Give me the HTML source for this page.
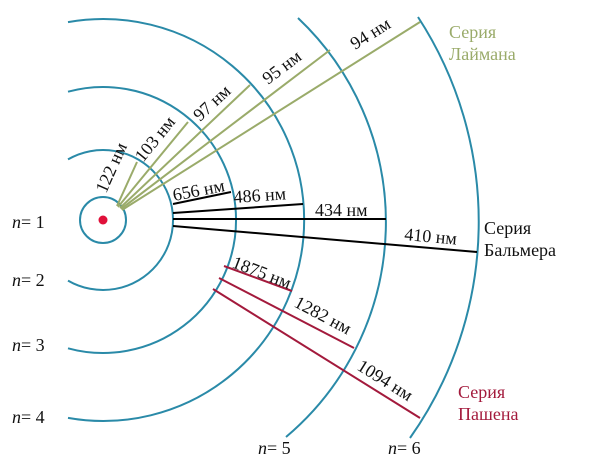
<!DOCTYPE html>
<html><head><meta charset="utf-8"><style>
html,body{margin:0;padding:0;background:#fff;}
svg{display:block;}
text{font-family:"Liberation Serif",serif;font-size:18px;fill:#111;}
</style></head><body>
<svg width="600" height="475" viewBox="0 0 600 475" xmlns="http://www.w3.org/2000/svg">
<g fill="none" stroke="#2a8aa8" stroke-width="2">
<circle cx="103" cy="220" r="23"/>
<path d="M68,159.4 A70,70 0 1 1 68,280.6"/>
<path d="M68,91.7 A133,133 0 1 1 68,348.3"/>
<path d="M68,22.1 A201,201 0 1 1 68,417.9"/>
<path d="M298,18 A281,281 0 0 1 286,437"/>
<path d="M418,17 A375,375 0 0 1 410,438"/>
</g>
<circle cx="103" cy="220" r="4.5" fill="#e0103a"/>
<g stroke="#9aab6a" stroke-width="2">
<line x1="117" y1="206" x2="137" y2="162"/>
<line x1="118" y1="207" x2="188" y2="122"/>
<line x1="120" y1="208" x2="250" y2="85"/>
<line x1="121" y1="209" x2="330" y2="50"/>
<line x1="122" y1="210" x2="420" y2="22"/>
</g>
<g stroke="#000" stroke-width="2">
<line x1="173" y1="204" x2="231" y2="192"/>
<line x1="173" y1="213" x2="303" y2="204"/>
<line x1="173" y1="219" x2="386" y2="219"/>
<line x1="173" y1="226" x2="477" y2="252"/>
</g>
<g stroke="#a31a3c" stroke-width="2">
<line x1="224" y1="266" x2="292" y2="291"/>
<line x1="219" y1="278" x2="354" y2="348"/>
<line x1="213" y1="289" x2="420" y2="418"/>
</g>
<text transform="translate(106,194) rotate(-66)">122 нм</text>
<text transform="translate(143,163) rotate(-51)">103 нм</text>
<text transform="translate(200,122) rotate(-43)">97 нм</text>
<text transform="translate(268,85) rotate(-37)">95 нм</text>
<text transform="translate(355,50) rotate(-32)">94 нм</text>
<text transform="translate(174,201) rotate(-11)">656 нм</text>
<text transform="translate(234,203) rotate(-4)">486 нм</text>
<text x="315" y="216">434 нм</text>
<text transform="translate(404,240) rotate(5)">410 нм</text>
<text transform="translate(231,267) rotate(21)">1875 нм</text>
<text transform="translate(293,306) rotate(28)">1282 нм</text>
<text transform="translate(356,369) rotate(32)">1094 нм</text>
<text x="449" y="38" style="fill:#9aab6a">Серия</text>
<text x="449" y="60" style="fill:#9aab6a">Лаймана</text>
<text x="484" y="234">Серия</text>
<text x="484" y="256">Бальмера</text>
<text x="458" y="398" style="fill:#a31a3c">Серия</text>
<text x="458" y="420" style="fill:#a31a3c">Пашена</text>
<text x="12" y="228"><tspan font-style="italic">n</tspan>= 1</text>
<text x="12" y="286"><tspan font-style="italic">n</tspan>= 2</text>
<text x="12" y="351"><tspan font-style="italic">n</tspan>= 3</text>
<text x="12" y="423"><tspan font-style="italic">n</tspan>= 4</text>
<text x="258" y="454"><tspan font-style="italic">n</tspan>= 5</text>
<text x="388" y="454"><tspan font-style="italic">n</tspan>= 6</text>
</svg>
</body></html>
